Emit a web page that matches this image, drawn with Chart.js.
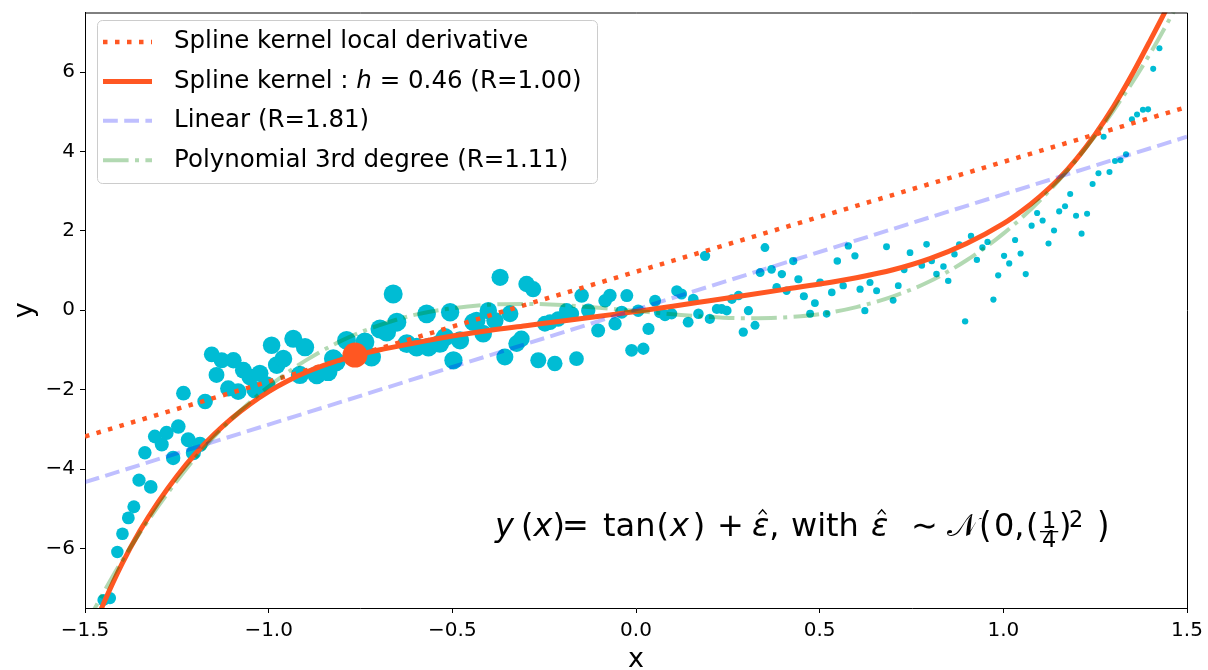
<!DOCTYPE html>
<html>
<head>
<meta charset="utf-8">
<script src="https://cdn.jsdelivr.net/npm/chart.js@4.4.1/dist/chart.umd.min.js"></script>
<style>
  html, body { margin: 0; padding: 0; background: #fff; }
  #wrap { width: 1208px; height: 670px; }
</style>
</head>
<body>
<div id="wrap"><canvas id="c" width="1208" height="670"></canvas></div>
<script>
// ---- tick labels ----
const xTicks = [-1.5, -1.0, -0.5, 0.0, 0.5, 1.0, 1.5];
const yTicks = [-6, -4, -2, 0, 2, 4, 6];

// ---- noisy samples of tan(x) ----
const sampleX = [
  -1.450, -1.432, -1.412, -1.398, -1.382, -1.367, -1.353, -1.321, -1.337, -1.310,
  -1.291, -1.278, -1.246, -1.260, -1.219, -1.205, -1.187, -1.173, -1.232, -1.155,
  -1.142, -1.128, -1.096, -1.110, -1.083, -1.069, -1.051, -1.024, -1.037, -0.992,
  -0.978, -1.005, -0.960, -0.933, -0.901, -0.915, -0.869, -0.838, -0.824, -0.788,
  -0.720, -0.738, -0.697, -0.661, -0.651, -0.816, -0.679, -0.624, -0.597, -0.570,
  -0.565, -0.534, -0.506, -0.497, -0.520, -0.402, -0.434, -0.416, -0.370, -0.343,
  -0.298, -0.280, -0.357, -0.325, -0.312, -0.266, -0.221, -0.162, -0.248, -0.212,
  -0.189, -0.148, -0.130, -0.103, -0.084, -0.071, -0.057, -0.025, -0.039, 0.006,
  0.052, 0.034, -0.012, 0.020, -0.479, -0.443, -0.384, -0.234, -0.175,
  0.065, 0.079, 0.097, 0.111, 0.124, 0.142, 0.156, 0.170, 0.188, 0.201,
  0.220, 0.233, 0.247, 0.261, 0.279, 0.292, 0.306, 0.324, 0.338, 0.351,
  0.369, 0.383, 0.397, 0.410, 0.428, 0.442, 0.457, 0.474, 0.487, 0.501,
  0.519, 0.533, 0.548, 0.564, 0.578, 0.596, 0.610, 0.623, 0.637, 0.655,
  0.682, 0.700, 0.714, 0.730, 0.746, 0.778, 0.791, 0.805, 0.818, 0.837,
  0.850, 0.867, 0.880, 0.896, 0.912, 0.928, 0.943, 0.957, 0.973, 0.986,
  1.002, 1.016, 1.032, 1.047, 1.061, 1.077, 1.092, 1.107, 1.123, 1.138,
  1.152, 1.168, 1.182, 1.198, 1.213, 1.228, 1.243, 1.259, 1.273, 1.289,
  1.304, 1.319, 1.334, 1.350, 1.364, 1.380, 1.394, 1.408, 1.425
];
const sampleY = [
  -7.30, -7.25, -6.09, -5.63, -5.23, -4.95, -4.28, -4.45, -3.59, -3.18,
  -3.38, -3.09, -2.93, -3.72, -3.26, -3.59, -3.38, -2.30, -2.09, -1.11,
  -1.63, -1.26, -1.26, -1.97, -2.05, -1.51, -1.68, -1.59, -2.01, -0.88,
  -1.38, -1.88, -1.22, -0.72, -0.93, -1.63, -1.63, -1.55, -1.22, -0.76,
  -1.18, -0.80, -0.47, 0.41, -0.30, -1.30, -0.55, -0.84, -0.93, -0.09,
  -0.93, -0.84, -0.05, -1.26, -0.68, -0.01, -0.26, -0.59, 0.83, -0.09,
  0.66, 0.53, -1.18, -0.84, -0.72, -1.26, -1.34, -1.22, -0.34, -0.22,
  -0.01, 0.37, -0.01, -0.51, 0.24, 0.37, -0.34, 0.37, -0.05, -0.01,
  0.24, -0.47, -1.01, -0.97, -0.76, -0.30, -0.26, -0.30, -0.09,
  -0.05, -0.13, -0.09, 0.49, 0.41, -0.30, 0.28, -0.09, 1.37, -0.22,
  0.03, 0.03, -0.01, 0.28, 0.37, -0.55, -0.01, -0.38, 0.95, 1.58,
  1.03, 0.58, 0.91, 0.49, 1.24, 0.78, 0.35, -0.09, 0.18, 0.70,
  -0.09, 0.45, 1.24, 0.62, 1.62, 1.37, 0.53, -0.01, 0.70, 0.49,
  1.60, 0.25, 0.62, 1.02, 1.45, 1.13, 1.66, 1.24, 0.91, 1.10,
  0.74, 1.41, 1.66, -0.28, 1.87, 1.27, 1.58, 1.72, 0.27, 0.88,
  1.37, 1.18, 1.77, 1.43, 0.91, 2.13, 2.45, 2.26, 1.68, 2.01,
  2.49, 2.62, 2.93, 2.38, 1.93, 2.43, 3.18, 3.45, 4.37, 3.48,
  3.76, 3.78, 3.93, 4.81, 4.93, 5.05, 5.06, 6.08, 6.60
];

// ---- spline kernel regression curve ----
const splineX = [
  -1.47, -1.45, -1.40, -1.35, -1.30, -1.25, -1.20, -1.15, -1.10, -1.05, -1.00,
  -0.95, -0.90, -0.85, -0.80, -0.75, -0.70, -0.60, -0.50, -0.40, -0.30, -0.20,
  -0.10, 0.00, 0.10, 0.20, 0.30, 0.40, 0.50, 0.60, 0.70, 0.80, 0.90, 1.00,
  1.05, 1.10, 1.15, 1.20, 1.25, 1.30, 1.35, 1.40, 1.45, 1.47
];
const splineY = [
  -7.85, -7.40, -6.40, -5.55, -4.82, -4.18, -3.62, -3.14, -2.72, -2.36, -2.05,
  -1.79, -1.57, -1.39, -1.24, -1.11, -1.00, -0.82, -0.65, -0.51, -0.39, -0.27,
  -0.15, -0.03, 0.10, 0.24, 0.38, 0.52, 0.66, 0.82, 1.02, 1.30, 1.68, 2.18,
  2.50, 2.87, 3.30, 3.82, 4.43, 5.13, 5.93, 6.80, 7.70, 8.10
];

// ---- evaluation point of the local derivative ----
const localX = [-0.765];
const localY = [-1.13];

// ---- local derivative (tangent) line ----
const derivX = [-1.5, 1.5];
const derivY = [-3.18, 5.12];

// ---- least-squares linear fit ----
const linearX = [-1.5, 1.5];
const linearY = [-4.33, 4.37];

// ---- 3rd degree polynomial fit ----
const polyX = [
  -1.50, -1.40, -1.30, -1.20, -1.10, -1.00, -0.90, -0.80, -0.70, -0.60,
  -0.50, -0.40, -0.30, -0.20, -0.10, 0.00, 0.10, 0.20, 0.30, 0.40,
  0.50, 0.60, 0.70, 0.80, 0.90, 1.00, 1.10, 1.20, 1.30, 1.40, 1.50
];
const polyY = [
  -7.95, -6.32, -4.93, -3.72, -2.73, -1.92, -1.27, -0.76, -0.38, -0.11,
  0.05, 0.14, 0.16, 0.13, 0.06, -0.02, -0.10, -0.17, -0.20, -0.18,
  -0.10, 0.08, 0.35, 0.73, 1.26, 1.93, 2.77, 3.80, 5.03, 6.47, 8.14
];

const legendOrder = [
  { label: 'Spline kernel local derivative', parts: [['Spline kernel local derivative', false]] },
  { label: 'Spline kernel : h = 0.46 (R=1.00)', parts: [['Spline kernel : ', false], ['h', true], [' = 0.46 (R=1.00)', false]] },
  { label: 'Linear (R=1.81)', parts: [['Linear (R=1.81)', false]] },
  { label: 'Polynomial 3rd degree (R=1.11)', parts: [['Polynomial 3rd degree (R=1.11)', false]] }
];

const pts = (xs, ys) => xs.map((x, i) => ({ x: x, y: ys[i] }));
const ORANGE = '#FF5722';
const FONT = "'DejaVu Sans', 'Liberation Sans', sans-serif";
const fmtMinus = s => s.replace('-', '\u2212');

// marker size follows the kernel weight around the evaluation point
const sampleRadius = ctx => {
  const x = ctx.raw ? ctx.raw.x : 0;
  const u = (x + 0.7) / 0.85;
  return 3 + 6.5 * Math.exp(-u * u);
};

// first dataset is painted last (on top)
const datasets = [
  { label: 'local point', data: pts(localX, localY), backgroundColor: ORANGE,
    borderWidth: 0, pointRadius: 12.5, pointHoverRadius: 12.5 },
  { label: 'Polynomial 3rd degree (R=1.11)', data: pts(polyX, polyY), showLine: true,
    borderColor: 'rgba(0,128,0,0.3)', borderWidth: 4, borderDash: [25.6, 6.4, 4, 6.4],
    pointRadius: 0, cubicInterpolationMode: 'monotone' },
  { label: 'Linear (R=1.81)', data: pts(linearX, linearY), showLine: true,
    borderColor: 'rgba(0,0,255,0.25)', borderWidth: 4, borderDash: [14.8, 6.4], pointRadius: 0 },
  { label: 'Spline kernel local derivative', data: pts(derivX, derivY), showLine: true,
    borderColor: ORANGE, borderWidth: 4.5, borderDash: [4.5, 7.5], pointRadius: 0 },
  { label: 'Spline kernel : h = 0.46 (R=1.00)', data: pts(splineX, splineY), showLine: true,
    borderColor: ORANGE, borderWidth: 5, pointRadius: 0, cubicInterpolationMode: 'monotone' },
  { label: 'samples', data: pts(sampleX, sampleY), backgroundColor: '#00BCD4',
    borderWidth: 0, pointRadius: sampleRadius, pointHoverRadius: sampleRadius }
];

// top and right frame lines
const framePlugin = {
  id: 'frame',
  afterDraw(chart) {
    const { ctx, chartArea: a } = chart;
    ctx.save();
    ctx.strokeStyle = '#000';
    ctx.lineWidth = 1;
    ctx.beginPath();
    ctx.moveTo(a.left, a.top + 0.5);
    ctx.lineTo(a.right + 0.5, a.top + 0.5);
    ctx.lineTo(a.right + 0.5, a.bottom);
    ctx.stroke();
    ctx.restore();
  }
};

// boxed legend with line handles
const legendPlugin = {
  id: 'lineLegend',
  afterDraw(chart, args, o) {
    const ctx = chart.ctx;
    ctx.save();
    ctx.beginPath();
    ctx.roundRect(o.left + 0.5, o.top + 0.5, o.width, o.height, 5);
    ctx.fillStyle = 'rgba(255,255,255,0.8)';
    ctx.fill();
    ctx.strokeStyle = '#cccccc';
    ctx.lineWidth = 1;
    ctx.stroke();
    legendOrder.forEach((entry, i) => {
      const ds = chart.data.datasets.find(d => d.label === entry.label);
      const y = o.top + o.firstRow + i * o.rowGap;
      ctx.save();
      ctx.strokeStyle = ds.borderColor;
      ctx.lineWidth = ds.borderWidth;
      ctx.setLineDash(ds.borderDash || []);
      ctx.lineCap = 'butt';
      ctx.beginPath();
      ctx.moveTo(o.handleX0, y);
      ctx.lineTo(o.handleX1, y);
      ctx.stroke();
      ctx.restore();
      let x = o.textX;
      ctx.fillStyle = '#000';
      ctx.textBaseline = 'middle';
      entry.parts.forEach(([txt, it]) => {
        ctx.font = (it ? 'italic ' : '') + o.fontSize + 'px ' + FONT;
        ctx.fillText(txt, x, y);
        x += ctx.measureText(txt).width;
      });
    });
    ctx.restore();
  }
};

// formula annotation: y(x) = tan(x) + eps_hat, with eps_hat ~ N(0, (1/4)^2)
const formulaPlugin = {
  id: 'formula',
  afterDraw(chart, args, o) {
    const ctx = chart.ctx;
    const F = o.size, x0 = o.x, base = o.y;
    const font = (it, s) => (it ? 'italic ' : '') + s + 'px ' + FONT;
    ctx.save();
    ctx.fillStyle = '#000';
    ctx.strokeStyle = '#000';
    ctx.textBaseline = 'alphabetic';
    let cur = x0;
    o.tokens.forEach(tk => {
      if (tk.x !== undefined) cur = x0 + tk.x;
      if (tk.frac) {
        const s = F * 0.7;
        ctx.font = font(false, s);
        const w1 = ctx.measureText(tk.frac[0]).width, w2 = ctx.measureText(tk.frac[1]).width;
        const w = Math.max(w1, w2) + 4;
        ctx.fillText(tk.frac[0], cur + (w - w1) / 2, base - 8);
        ctx.fillText(tk.frac[1], cur + (w - w2) / 2, base + 11);
        ctx.fillRect(cur, base - 5, w, 1.3);
        cur += w;
        return;
      }
      const s = tk.sup ? F * 0.7 : F;
      ctx.font = font(!!tk.it, s);
      const w = ctx.measureText(tk.t).width;
      if (tk.big) {
        const axis = base - F * 0.27;
        ctx.save();
        ctx.translate(cur, axis);
        ctx.scale(1, 1.12);
        ctx.fillText(tk.t, 0, F * 0.27);
        ctx.restore();
      } else {
        ctx.fillText(tk.t, cur, tk.sup ? base - 9 : base);
      }
      if (tk.hat) {
        const cx = cur + w / 2 + 2, top = base - F * 0.55 - 4;
        ctx.lineWidth = 1.4;
        ctx.beginPath();
        ctx.moveTo(cx - 4, top);
        ctx.lineTo(cx, top - 4.5);
        ctx.lineTo(cx + 4, top);
        ctx.stroke();
      }
      cur += w + (tk.gap || 0);
    });
    ctx.restore();
  }
};

new Chart(document.getElementById('c'), {
  type: 'scatter',
  data: { datasets: datasets },
  options: {
    responsive: false,
    animation: false,
    devicePixelRatio: 1,
    events: [],
    layout: { padding: { top: 8, right: 21, left: 0, bottom: 0 } },
    plugins: {
      legend: { display: false },
      tooltip: { enabled: false },
      lineLegend: { left: 97, top: 20, width: 500, height: 163, firstRow: 22, rowGap: 39.4,
                    handleX0: 103, handleX1: 152, textX: 174, fontSize: 24.5 },
      formula: {
        x: 495, y: 536, size: 32,
        tokens: [
          { x: 0, t: 'y', it: true },
          { x: 26, t: '(' }, { t: 'x', it: true }, { t: ')' },
          { x: 67, t: '=' },
          { x: 108, t: 'tan', gap: 1 }, { t: '(', gap: 1 }, { t: 'x', it: true, gap: 4 }, { t: ')' },
          { x: 222, t: '+' },
          { x: 257, t: '\u03b5', it: true, hat: true }, { t: ',' },
          { x: 296, t: 'with' },
          { x: 376, t: '\u03b5', it: true, hat: true },
          { x: 416, t: '\u223c' },
          { x: 452, t: '\ud835\udca9' },
          { x: 484, t: '(', big: true },
          { x: 499, t: '0' }, { t: ',' },
          { x: 531, t: '(' },
          { x: 545, frac: ['1', '4'] },
          { x: 564, t: ')' },
          { x: 574, t: '2', sup: true },
          { x: 602, t: ')', big: true }
        ]
      }
    },
    scales: {
      x: {
        type: 'linear', position: 'bottom', min: -1.5, max: 1.5,
        afterBuildTicks: s => { s.ticks = xTicks.map(v => ({ value: v })); },
        afterFit: s => { s.height = 62; s.paddingLeft = 0; s.paddingRight = 0; },
        ticks: { callback: v => fmtMinus(v.toFixed(1)), color: '#000', padding: 6,
                 font: { family: FONT, size: 20 }, maxRotation: 0, autoSkip: false },
        grid: { drawOnChartArea: false, drawTicks: true, tickLength: 5, color: '#000' },
        border: { display: true, color: '#000', width: 1 },
        title: { display: true, text: 'x', color: '#000', font: { family: FONT, size: 27, lineHeight: 1 },
                 padding: { top: 0, bottom: -3.5 } }
      },
      y: {
        type: 'linear', position: 'left', min: -7.5, max: 7.5,
        afterBuildTicks: s => { s.ticks = yTicks.map(v => ({ value: v })); },
        afterFit: s => { s.width = 85; s.paddingTop = 0; s.paddingBottom = 0; },
        ticks: { callback: v => fmtMinus(String(v)), color: '#000', padding: 5,
                 font: { family: FONT, size: 20 }, autoSkip: false },
        grid: { drawOnChartArea: false, drawTicks: true, tickLength: 5, color: '#000' },
        border: { display: true, color: '#000', width: 1 },
        title: { display: true, text: 'y', color: '#000', font: { family: FONT, size: 27, lineHeight: 1 },
                 padding: { top: 11, bottom: 0 } }
      }
    }
  },
  plugins: [framePlugin, legendPlugin, formulaPlugin]
});
</script>
</body>
</html>
